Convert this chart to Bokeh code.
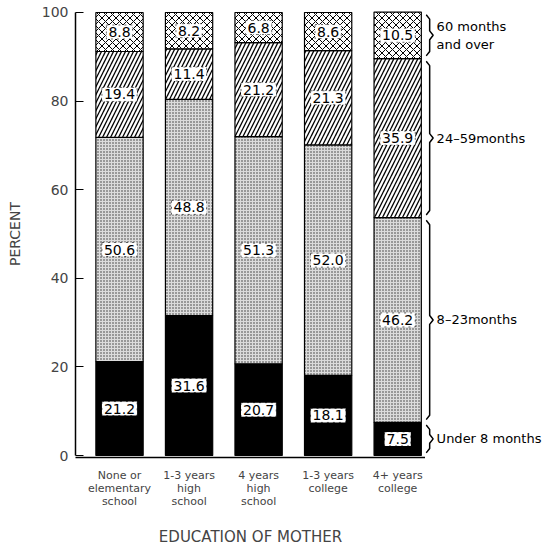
import numpy as np
from bokeh.plotting import figure
from bokeh.models import ColumnDataSource, Range1d, FixedTicker
from bokeh.layouts import row
from bokeh.embed import file_html
from bokeh.resources import INLINE
from bokeh.core.properties import value

# ---------------- data ----------------
categories = ["None or\nelementary\nschool", "1-3 years\nhigh\nschool",
              "4 years\nhigh\nschool", "1-3 years\ncollege", "4+ years\ncollege"]
under_8 = [21.2, 31.6, 20.7, 18.1, 7.5]
months_8_23 = [50.6, 48.8, 51.3, 52.0, 46.2]
months_24_59 = [19.4, 11.4, 21.2, 21.3, 35.9]
months_60_plus = [8.8, 8.2, 6.8, 8.6, 10.5]
series_names = ["Under 8 months", "8\u201323months", "24\u201359months", "60 months\nand over"]
y_ticks = [0, 20, 40, 60, 80, 100]
x_title = "EDUCATION OF MOTHER"

FONT = "DejaVu Sans"
series = [under_8, months_8_23, months_24_59, months_60_plus]
xs = np.arange(1, len(categories) + 1, dtype=float)

H = 551
BOT = 94
yr = Range1d(-0.45, 100.45)
p = figure(width=425, height=H, output_backend="svg", toolbar_location=None,
           x_range=Range1d(0.367, 5.40), y_range=yr,
           min_border_left=75, min_border_right=0, min_border_top=10, min_border_bottom=BOT)
p.outline_line_color = None
p.grid.visible = False
p.background_fill_color = "white"

styles = [
    dict(fill_color="black"),
    dict(fill_color="#dcdcdc", hatch_pattern="dot", hatch_scale=3, hatch_color="#333333", hatch_weight=1),
    dict(fill_color="white", hatch_pattern="right_diagonal_line", hatch_scale=8, hatch_color="black", hatch_weight=1.3),
    dict(fill_color="white", hatch_pattern="diagonal_cross", hatch_scale=7, hatch_color="black", hatch_weight=1),
]

bottoms = np.zeros(len(categories))
lab_x, lab_y, lab_t = [], [], []
for vals, st in zip(series, styles):
    vals = np.array(vals)
    tops = bottoms + vals
    src = ColumnDataSource(dict(x=xs, bottom=bottoms, top=tops))
    p.vbar(x="x", bottom="bottom", top="top", width=0.68, source=src,
           line_color="black", line_width=1.2, **st)
    for i in range(len(xs)):
        lab_x.append(xs[i])
        lab_y.append((bottoms[i] + tops[i]) / 2)
        lab_t.append(f"{vals[i]:.1f}")
    bottoms = tops

lsrc = ColumnDataSource(dict(x=lab_x, y=lab_y, t=lab_t))
p.text(x="x", y="y", text="t", source=lsrc, text_align="center",
       text_baseline="middle", text_font=value(FONT), text_font_size="14px",
       text_color="black", background_fill_color="white",
       border_line_color="black", border_line_width=0.6, border_line_dash="dotted",
       padding=2)

# axes
p.yaxis.ticker = FixedTicker(ticks=y_ticks)
p.yaxis.bounds = (0, 100)
p.yaxis.major_tick_in = 8
p.yaxis.major_tick_out = 0
p.yaxis.minor_tick_line_color = None
p.yaxis.major_label_standoff = 7
p.yaxis.major_label_text_font = FONT
p.yaxis.major_label_text_font_size = "14px"
p.yaxis.axis_label = "PERCENT"
p.yaxis.axis_label_text_font = FONT
p.yaxis.axis_label_text_font_size = "14px"
p.yaxis.axis_label_text_font_style = "normal"
p.yaxis.axis_label_standoff = 16
p.yaxis.axis_line_width = 1.5

p.xaxis.ticker = FixedTicker(ticks=list(xs))
p.xaxis.major_label_overrides = {float(x): c for x, c in zip(xs, categories)}
p.xaxis.major_tick_in = 0
p.xaxis.major_tick_out = 0
p.xaxis.minor_tick_line_color = None
p.xaxis.major_label_standoff = 11
p.xaxis.major_label_text_font = FONT
p.xaxis.major_label_text_font_size = "11px"
p.xaxis.major_label_text_line_height = 1.0
p.xaxis.axis_label = x_title
p.xaxis.axis_label_text_font = FONT
p.xaxis.axis_label_text_font_size = "15px"
p.xaxis.axis_label_text_font_style = "normal"
p.xaxis.axis_label_standoff = 17
p.xaxis.axis_line_width = 1.5

# ---------- right-hand panel: braces + class names ----------
p2 = figure(width=125, height=H, output_backend="svg", toolbar_location=None,
            x_range=Range1d(5.40, 5.40 + 125 / 69.5), y_range=yr,
            x_axis_type=None, y_axis_type=None,
            min_border_left=0, min_border_right=0, min_border_top=10, min_border_bottom=BOT)
p2.outline_line_color = None
p2.grid.visible = False

last = [s[-1] for s in series]
cum = np.concatenate([[0], np.cumsum(last)])
bx0 = 5.41
d = 0.05
bxs, bys = [], []
for i in range(len(last)):
    lo, hi = cum[i] + 0.6, cum[i + 1] - 0.6
    mid = (lo + hi) / 2
    e = min(1.0, (hi - lo) / 6)
    bxs.append([bx0, bx0 + d, bx0 + d, bx0 + 2 * d, bx0 + d, bx0 + d, bx0])
    bys.append([lo, lo + e, mid - e, mid, mid + e, hi - e, hi])
p2.multi_line(xs=bxs, ys=bys, line_color="black", line_width=1.5)

tsrc = ColumnDataSource(dict(x=[bx0 + 0.15] * len(last),
                             y=[(cum[i] + cum[i + 1]) / 2 for i in range(len(last))],
                             t=series_names))
p2.text(x="x", y="y", text="t", source=tsrc, text_font=value(FONT), text_font_size="13px",
        text_baseline="middle", text_align="left", text_color="black", text_line_height=1.2)

layout = row(p, p2)
open("out.html", "w").write(file_html(layout, INLINE))
